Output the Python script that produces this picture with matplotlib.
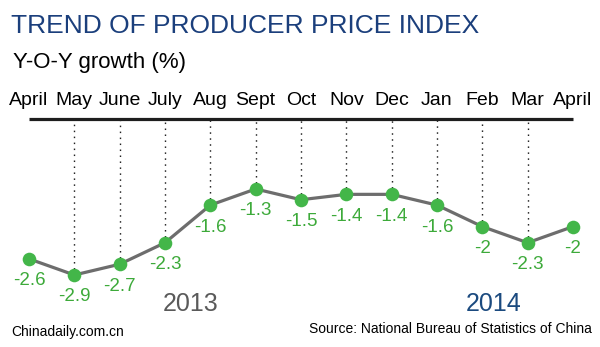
import numpy as np
import matplotlib
matplotlib.use("Agg")
import matplotlib.pyplot as plt

plt.rcParams['font.family'] = ['Liberation Sans', 'DejaVu Sans']

months = ["April", "May", "June", "July", "Aug", "Sept", "Oct", "Nov",
          "Dec", "Jan", "Feb", "Mar", "April"]
ppi_yoy = [-2.6, -2.9, -2.7, -2.3, -1.6, -1.3, -1.5, -1.4, -1.4, -1.6,
           -2.0, -2.3, -2.0]
years = ["2013", "2014"]

W, H = 600, 347
fig = plt.figure(figsize=(W / 100, H / 100), dpi=100)
ax = fig.add_axes([0, 0, 1, 1])
ax.axis('off')

x = np.arange(len(months))
ax.set_xlim(-0.64, 12.596)
ax.set_ylim(-4.24, 2.216)

# baseline at zero and dotted drop lines
ax.plot([x[0], x[-1]], [0, 0], color="#1e1e1e", lw=2.3,
        solid_capstyle='butt')
ax.vlines(x[1:-1], ppi_yoy[1:-1], 0, colors="#222222", lw=1.0,
          linestyles=(0, (1.1, 3.2)))

# the series
ax.plot(x, ppi_yoy, color="#6d6d6d", lw=2.3, zorder=3)
ax.plot(x, ppi_yoy, "o", color="#43b649", markersize=9.8, zorder=4,
        markeredgewidth=0)

for xi, v in zip(x, ppi_yoy):
    ax.annotate(f"{v:g}", (xi, v), xytext=(0, -22),
                textcoords='offset pixels', ha='center', va='center',
                fontsize=13.5, color="#3daa3a")

# month labels along the top
for xi, m in zip(x, months):
    ax.text(xi, 1 - 105 / H, m, transform=ax.get_xaxis_transform(),
            ha='center', va='baseline', fontsize=14, color="black")

fig.text(11 / W, 1 - 33 / H, "TREND OF PRODUCER PRICE INDEX",
         fontsize=19, color="#1b3f7c", va='baseline', ha='left')
fig.text(13 / W, 1 - 68 / H, "Y-O-Y growth (%)", fontsize=16,
         color="black", va='baseline', ha='left')

fig.text(190.5 / W, 1 - 304 / H, years[0], fontsize=18, color="#5a5a5a",
         ha='center', va='center')
fig.text(494 / W, 1 - 304 / H, years[1], fontsize=18, color="#1b4a7f",
         ha='center', va='center')

fig.text(11 / W, 1 - 336 / H, "Chinadaily.com.cn", fontsize=10,
         color="black", ha='left', va='baseline')
fig.text(592 / W, 1 - 333 / H, "Source: National Bureau of Statistics of China",
         fontsize=10, color="black", ha='right', va='baseline')

fig.savefig("out.png", dpi=100, facecolor="white")
